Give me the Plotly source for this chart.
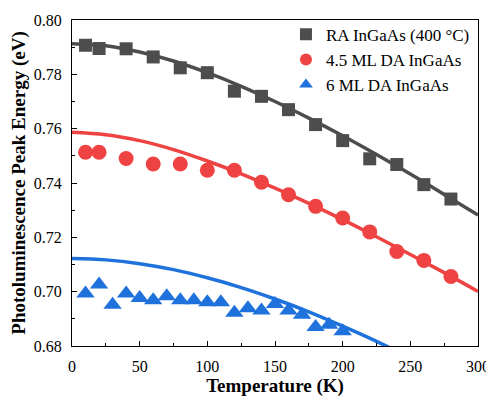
import plotly.graph_objects as go

# Measured data
t_ra = [10, 20, 40, 60, 80, 100, 120, 140, 160, 180, 200, 220, 240, 260, 280]
e_ra = [0.7907, 0.7895, 0.7894, 0.7864, 0.7824, 0.7806, 0.7738, 0.7719, 0.7670,
        0.7615, 0.7556, 0.7489, 0.7468, 0.7394, 0.7341]

t_45 = [10, 20, 40, 60, 80, 100, 120, 140, 160, 180, 200, 220, 240, 260, 280]
e_45 = [0.7513, 0.7513, 0.7490, 0.7470, 0.7470, 0.7447, 0.7447, 0.7403, 0.7357,
        0.7314, 0.7271, 0.7220, 0.7148, 0.7115, 0.7056]

t_6 = [10, 20, 30, 40, 50, 60, 70, 80, 90, 100, 110, 120, 130, 140, 150,
       160, 170, 180, 190, 200]
e_6 = [0.6993, 0.7026, 0.6952, 0.6993, 0.6977, 0.6968, 0.6983, 0.6968, 0.6968,
       0.6961, 0.6961, 0.6922, 0.6939, 0.6931, 0.6955, 0.6931, 0.6915, 0.6870,
       0.6878, 0.6854]

# Fit curves
t_fit = [0, 25, 50, 75, 100, 125, 150, 175, 200, 225, 250, 275, 300]
fit_ra = [0.7913, 0.7905, 0.7882, 0.7849, 0.7806, 0.7756, 0.7700, 0.7639, 0.7574,
          0.7505, 0.7433, 0.7358, 0.7282]
fit_45 = [0.7587, 0.7578, 0.7556, 0.7523, 0.7481, 0.7434, 0.7381, 0.7325, 0.7265,
          0.7202, 0.7137, 0.7070, 0.7001]
t_fit6 = [0, 25, 50, 75, 100, 125, 150, 175, 200, 225, 250]
fit_6 = [0.7122, 0.7117, 0.7103, 0.7081, 0.7051, 0.7015, 0.6973, 0.6926, 0.6873,
         0.6817, 0.6756]

names = ["RA InGaAs (400 °C)", "4.5 ML DA InGaAs", "6 ML DA InGaAs"]
c_ra, c_45, c_6 = "#4d4d4d", "#ef4242", "#1f72dc"

fig = go.Figure()
fig.add_trace(go.Scatter(x=t_fit, y=fit_ra, mode="lines", line=dict(color=c_ra, width=3.5, shape="spline"), showlegend=False))
fig.add_trace(go.Scatter(x=t_fit, y=fit_45, mode="lines", line=dict(color=c_45, width=3.5, shape="spline"), showlegend=False))
fig.add_trace(go.Scatter(x=t_fit6, y=fit_6, mode="lines", line=dict(color=c_6, width=3.5, shape="spline"), showlegend=False))

fig.add_trace(go.Scatter(x=t_ra, y=e_ra, mode="markers", name=names[0],
                         marker=dict(symbol="square", size=13, color=c_ra)))
fig.add_trace(go.Scatter(x=t_45, y=e_45, mode="markers", name=names[1],
                         marker=dict(symbol="circle", size=15, color=c_45)))
fig.add_trace(go.Scatter(x=t_6, y=e_6, mode="markers", name=names[2],
                         marker=dict(symbol="triangle-up", size=16, color=c_6)))

font_family = "Liberation Serif, Times New Roman, serif"
fig.update_layout(
    width=486, height=396,
    margin=dict(l=64, r=16, t=12, b=58, autoexpand=False),
    plot_bgcolor="white", paper_bgcolor="white",
    font=dict(family=font_family, size=16, color="black"),
    legend=dict(x=0.527, y=1.01, xanchor="left", yanchor="top",
                font=dict(size=17, family=font_family), bgcolor="rgba(0,0,0,0)",
                itemsizing="constant"),
    xaxis=dict(range=[0, 300], tickvals=[0, 50, 100, 150, 200, 250, 300],
               ticks="inside", ticklen=5, tickwidth=1.2, tickcolor="black",
               ticklabelstandoff=6,
               showline=True, linecolor="black", linewidth=1.3, mirror=True,
               showgrid=False, zeroline=False,
               minor=dict(tickvals=[25, 75, 125, 175, 225, 275], ticks="inside", ticklen=3, tickcolor="black", tickwidth=1),
               title=dict(text="<b>Temperature (K)</b>", font=dict(size=19), standoff=1)),
    yaxis=dict(range=[0.68, 0.80], tickvals=[0.68, 0.70, 0.72, 0.74, 0.76, 0.78, 0.80],
               tickformat=".2f",
               ticks="inside", ticklen=5, tickwidth=1.2, tickcolor="black",
               ticklabelstandoff=6,
               showline=True, linecolor="black", linewidth=1.3, mirror=True,
               showgrid=False, zeroline=False,
               minor=dict(tickvals=[0.69, 0.71, 0.73, 0.75, 0.77, 0.79], ticks="inside", ticklen=3, tickcolor="black", tickwidth=1),
               title=dict(text="<b>Photoluminescence Peak Energy (eV)</b>", font=dict(size=19), standoff=3)),
)

fig.write_html("out.html")
